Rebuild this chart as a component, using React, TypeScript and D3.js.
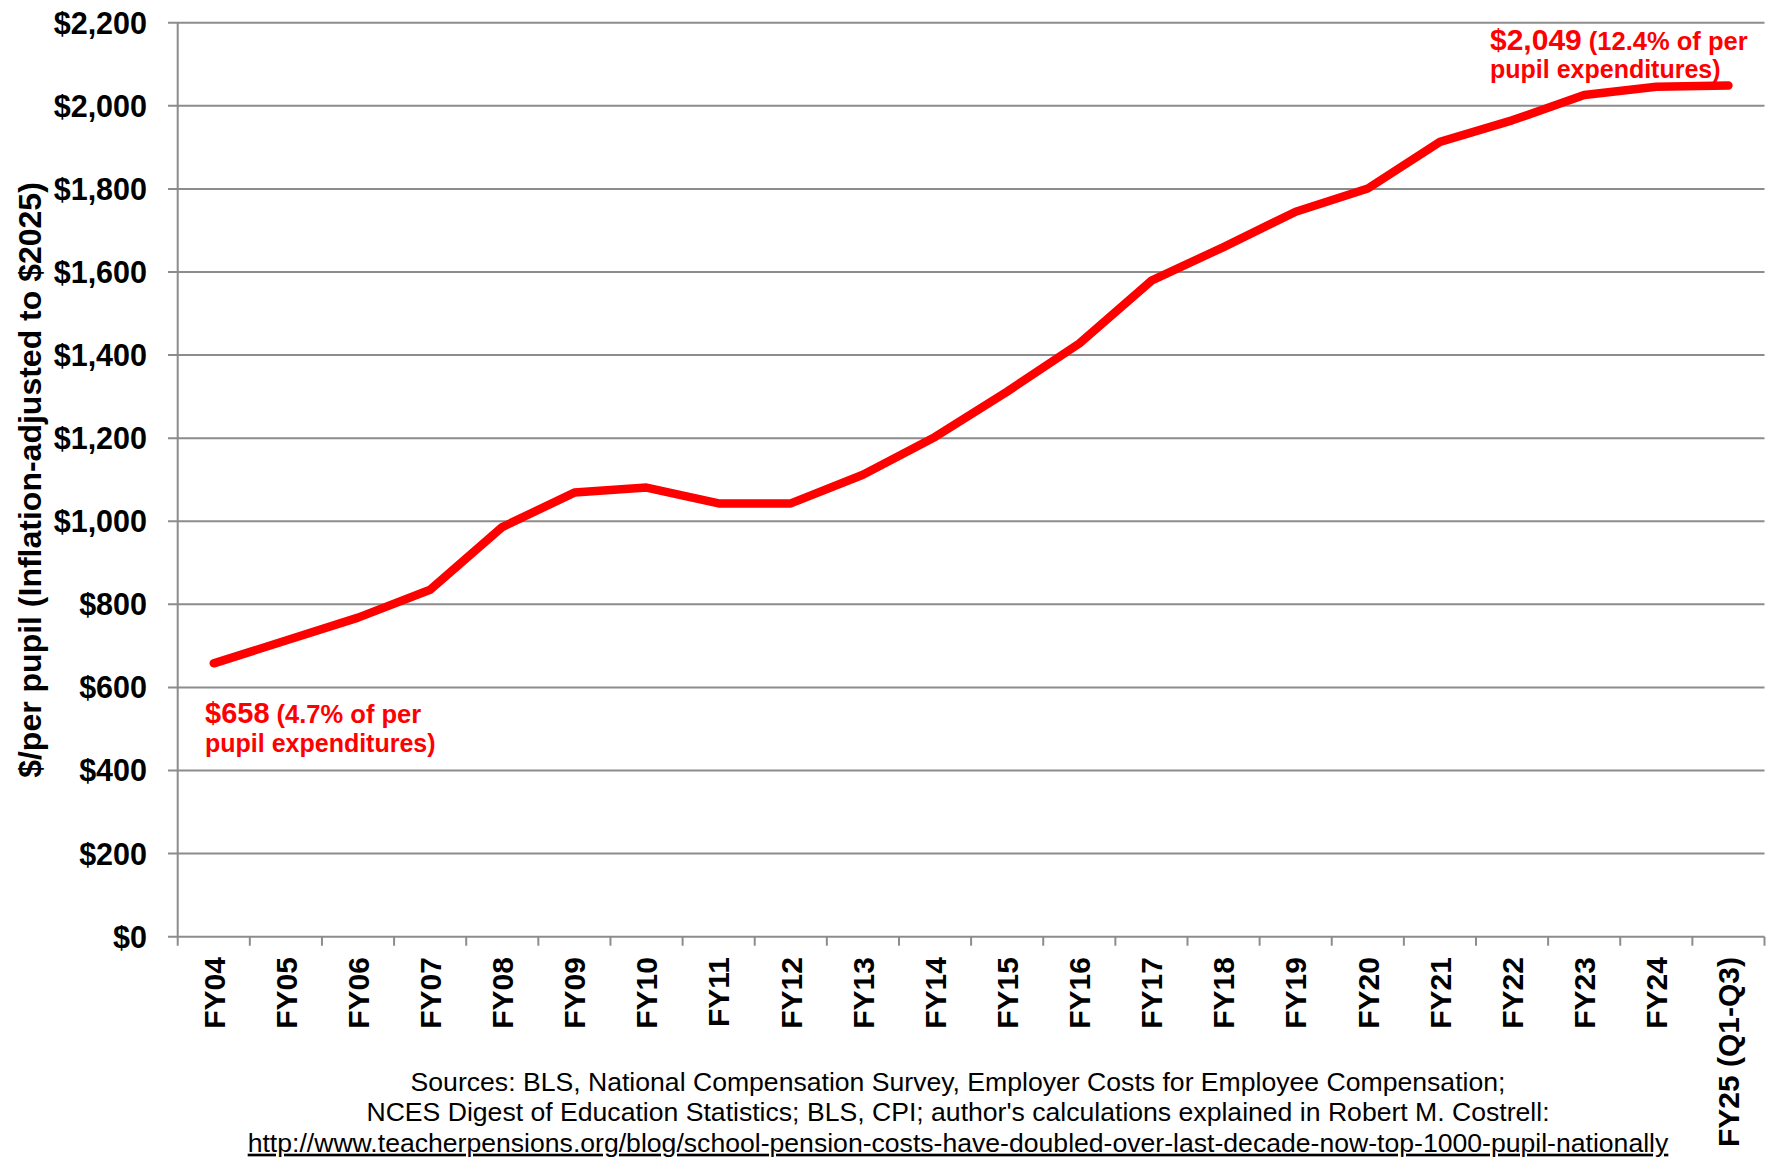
import React from "react";
import * as d3 from "d3";

const categories = ["FY04","FY05","FY06","FY07","FY08","FY09","FY10","FY11","FY12","FY13","FY14","FY15","FY16","FY17","FY18","FY19","FY20","FY21","FY22","FY23","FY24","FY25 (Q1-Q3)"];
const values = [658,713,768,835,986,1069,1081,1043,1043,1112,1203,1312,1428,1579,1660,1745,1801,1913,1965,2026,2046,2049];
const yTicks = [0,200,400,600,800,1000,1200,1400,1600,1800,2000,2200];
const yTitle = "$/per pupil (Inflation-adjusted to $2025)";
const sourceLines = [
  "Sources: BLS, National Compensation Survey, Employer Costs for Employee Compensation;",
  "NCES Digest of Education Statistics; BLS, CPI; author's calculations explained in Robert M. Costrell:",
  "http://www.teacherpensions.org/blog/school-pension-costs-have-doubled-over-last-decade-now-top-1000-pupil-nationally",
];
const startNote = { value: "$658", rest: "(4.7% of per", line2: "pupil expenditures)" };
const endNote = { value: "$2,049", rest: "(12.4% of per", line2: "pupil expenditures)" };

const W = 1775, H = 1159;
const FONT = "'Liberation Sans', Arial, Helvetica, sans-serif";
const GRID = "#8c8c8c";
const RED = "#ff0000";

export default function App() {
  const left = 177.7, right = 1764.5, top = 22.7, bottom = 936.7;
  const x = d3.scaleBand<string>().domain(categories).range([left, right]).padding(0);
  const y = d3.scaleLinear().domain([0, 2200]).range([bottom, top]);
  const bw = x.bandwidth();
  const cx = (c: string) => (x(c) as number) + bw / 2;
  const line = d3.line<number>().x((_, i) => cx(categories[i])).y((v) => y(v));
  const boundaries = categories.map((c) => x(c) as number).concat([right]);

  return (
    <svg width={W} height={H} style={{ position: "absolute", left: 0, top: 0, background: "#fff" }} fontFamily={FONT}>
      <rect width={W} height={H} fill="#fff" />
      {yTicks.map((t) => (
        <line key={t} x1={168} x2={right} y1={y(t)} y2={y(t)} stroke={GRID} strokeWidth={2} />
      ))}
      <line x1={left} x2={left} y1={top} y2={bottom} stroke={GRID} strokeWidth={2} />
      {boundaries.map((b, i) => (
        <line key={i} x1={b} x2={b} y1={bottom} y2={bottom + 9} stroke={GRID} strokeWidth={2} />
      ))}
      {yTicks.map((t) => (
        <text key={t} x={147} y={y(t)} dy="0.36em" textAnchor="end" fontSize={30.5} fontWeight="bold" fill="#000">
          {"$" + d3.format(",")(t)}
        </text>
      ))}
      <text transform={`translate(29,480) rotate(-90)`} textAnchor="middle" dy="0.36em" fontSize={32} fontWeight="bold" fill="#000">
        {yTitle}
      </text>
      {categories.map((c) => (
        <text key={c} transform={`translate(${cx(c)},957) rotate(-90)`} textAnchor="end" dy="0.36em" fontSize={30} fontWeight="bold" fill="#000">
          {c}
        </text>
      ))}
      <path d={line(values) || ""} fill="none" stroke={RED} strokeWidth={8.5} strokeLinecap="round" strokeLinejoin="round" />
      <text x={205} y={723} fill={RED} fontWeight="bold">
        <tspan fontSize={29}>{startNote.value}</tspan>
        <tspan fontSize={25.5}>{" " + startNote.rest}</tspan>
      </text>
      <text x={205} y={751.5} fill={RED} fontWeight="bold" fontSize={25}>{startNote.line2}</text>
      <text x={1490} y={50} fill={RED} fontWeight="bold">
        <tspan fontSize={30}>{endNote.value}</tspan>
        <tspan fontSize={25.5}>{" " + endNote.rest}</tspan>
      </text>
      <text x={1490} y={78} fill={RED} fontWeight="bold" fontSize={25}>{endNote.line2}</text>
      {sourceLines.map((s, i) => (
        <text key={i} x={958} y={1090.7 + i * 30.5} textAnchor="middle" fontSize={26.6} fill="#000"
          style={i === 2 ? { textDecoration: "underline" } : undefined}>
          {s}
        </text>
      ))}
    </svg>
  );
}
